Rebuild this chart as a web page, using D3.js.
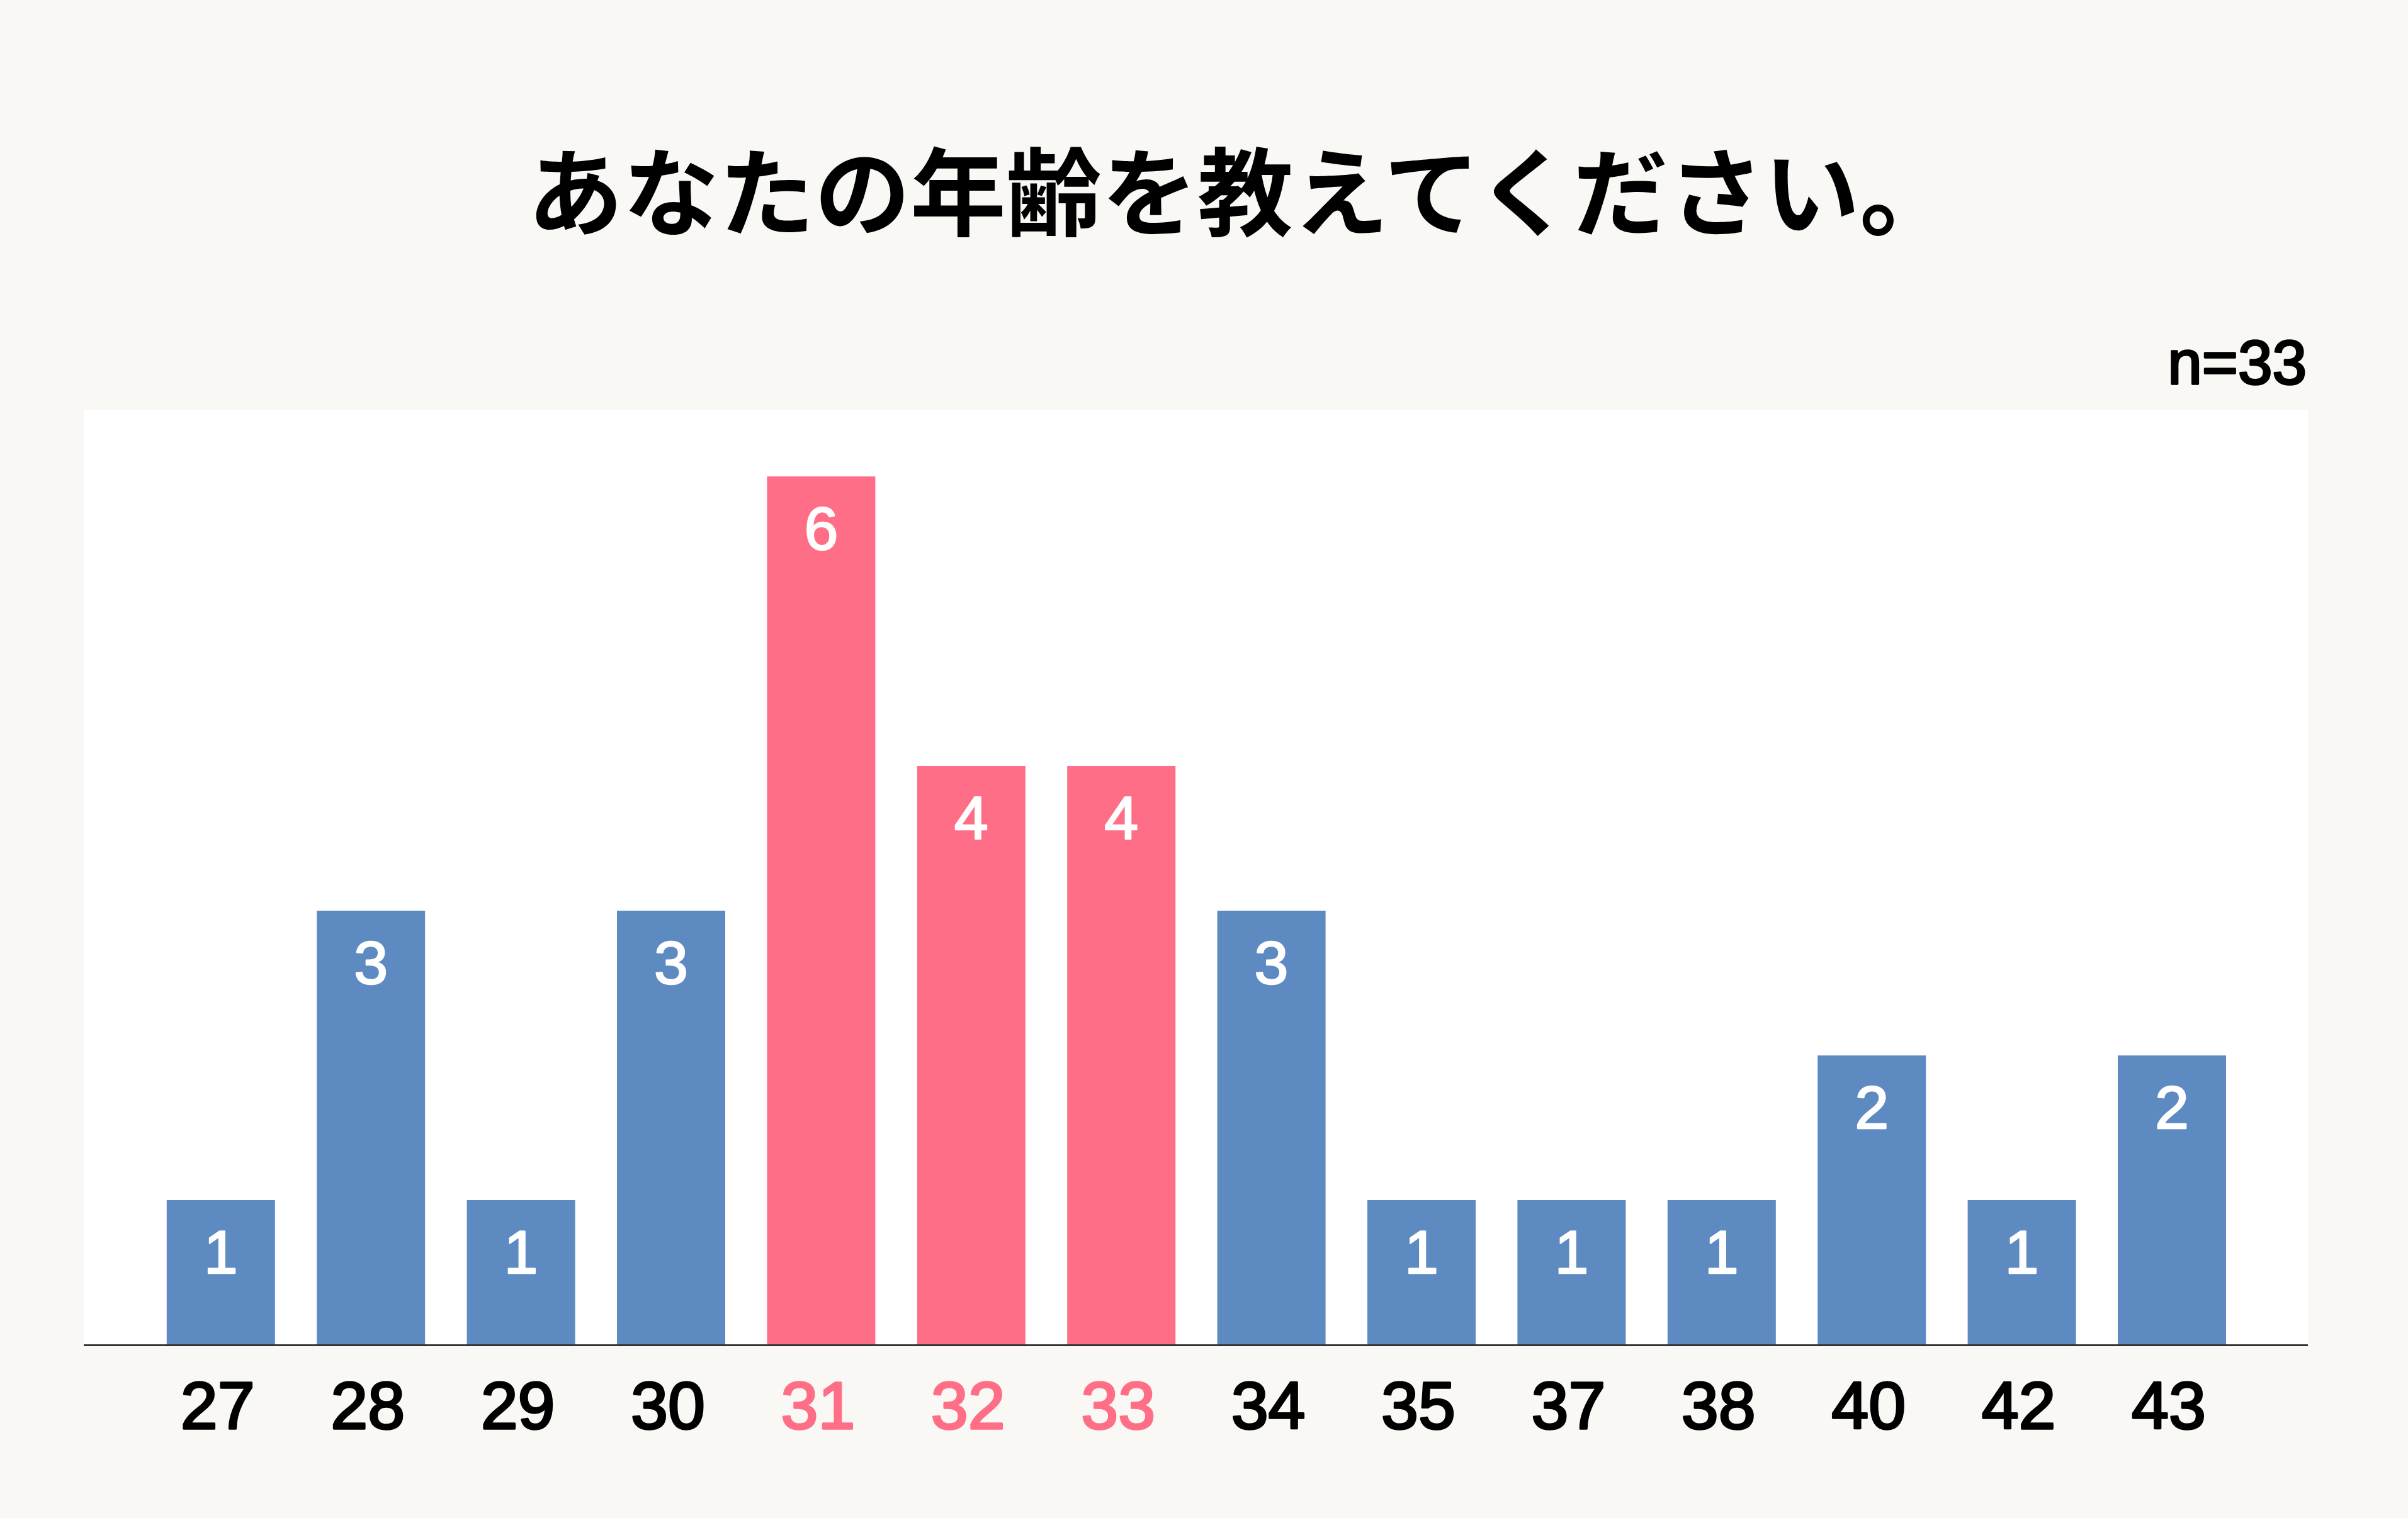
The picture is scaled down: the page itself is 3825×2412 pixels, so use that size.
<!DOCTYPE html>
<html>
<head>
<meta charset="utf-8">
<script src="https://cdn.jsdelivr.net/npm/d3@7"></script>
<style>
  html, body { margin: 0; padding: 0; background: #F9F8F4; }
  svg { display: block; }
</style>
</head>
<body>
<script>
const categories = ["27","28","29","30","31","32","33","34","35","37","38","40","42","43"];
const values = [1,3,1,3,6,4,4,3,1,1,1,2,1,2];
const highlighted = ["31","32","33"];
const titleText = "あなたの年齢を教えてください。";
const sampleText = "n=33";

const W = 3825, H = 2412;
const plot = {left: 133, right: 3666, top: 651, bottom: 2137};
const FONT = "'Liberation Sans', Arial, Helvetica, sans-serif";

const svg = d3.select("body").append("svg").attr("width", W).attr("height", H);
svg.append("rect").attr("width", W).attr("height", H).attr("fill", "#F9F8F4");
svg.append("rect")
  .attr("x", plot.left).attr("y", plot.top)
  .attr("width", plot.right - plot.left).attr("height", plot.bottom - plot.top)
  .attr("fill", "#FFFFFF");

const x = d3.scaleBand().domain(categories)
  .range([231.6, 3569.2]).paddingInner(0.2785).paddingOuter(0.13925);
const y = d3.scaleLinear().domain([0, 6]).range([plot.bottom, 757]);

const data = categories.map((c, i) => ({c, v: values[i]}));
const colorOf = c => highlighted.includes(c) ? "#FF6E87" : "#5D8AC1";

svg.append("g").selectAll("rect").data(data).join("rect")
  .attr("x", d => x(d.c)).attr("width", x.bandwidth())
  .attr("y", d => y(d.v)).attr("height", d => y(0) - y(d.v))
  .attr("fill", d => colorOf(d.c));

svg.append("g").selectAll("text").data(data).join("text")
  .attr("x", d => x(d.c) + x.bandwidth() / 2)
  .attr("y", d => y(d.v) + 116)
  .attr("text-anchor", "middle")
  .attr("fill", "#FFFFFF")
  .attr("stroke", "#FFFFFF").attr("stroke-width", 2.5).attr("stroke-linejoin", "round")
  .attr("font-family", FONT)
  .attr("font-size", 97)
  .text(d => d.v);

const axis = d3.axisBottom(x).tickSize(0).tickPadding(0);
const gx = svg.append("g").attr("transform", `translate(0,${plot.bottom})`).call(axis);
gx.select(".domain").remove();
svg.append("line")
  .attr("x1", plot.left).attr("x2", plot.right)
  .attr("y1", plot.bottom + 0.5).attr("y2", plot.bottom + 0.5)
  .attr("stroke", "#333333").attr("stroke-width", 3);
gx.selectAll(".tick text")
  .attr("y", 2270 - plot.bottom)
  .attr("dy", null)
  .attr("dx", -5)
  .attr("font-family", FONT)
  .attr("font-size", 106)
  .attr("fill", d => highlighted.includes(d) ? "#FF6E87" : "#000000")
  .attr("stroke", d => highlighted.includes(d) ? "#FF6E87" : "#000000")
  .attr("stroke-width", 3.5).attr("stroke-linejoin", "round");

svg.append("text")
  .attr("x", 1972).attr("y", 363)
  .attr("text-anchor", "middle")
  .attr("font-family", "'Noto Sans CJK JP', sans-serif")
  .attr("font-weight", "bold")
  .attr("font-size", 152)
  .attr("fill", "#000000")
  .text(titleText);

svg.append("text")
  .attr("x", plot.right - 2).attr("y", 610)
  .attr("text-anchor", "end")
  .attr("font-family", FONT)
  .attr("font-size", 98)
  .attr("fill", "#000000")
  .attr("stroke", "#000000").attr("stroke-width", 3.5).attr("stroke-linejoin", "round")
  .text(sampleText);
</script>
</body>
</html>
